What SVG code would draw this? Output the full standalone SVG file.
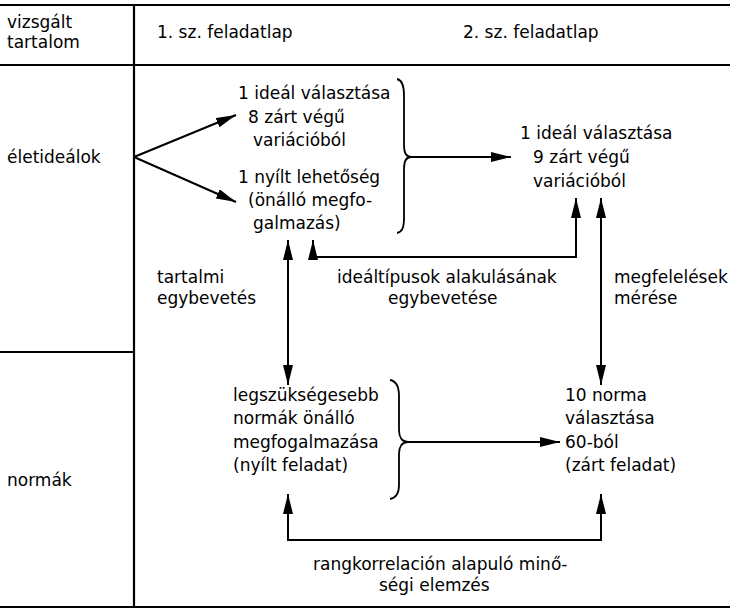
<svg xmlns="http://www.w3.org/2000/svg" width="730" height="610" viewBox="0 0 730 610">
<defs>
<marker id="ah" viewBox="0 0 20 10" refX="20" refY="5" markerWidth="20" markerHeight="10" markerUnits="userSpaceOnUse" orient="auto-start-reverse">
<path d="M0,0 L20,5 L0,10 z" fill="#000"/>
</marker>
<style>
text{font-family:"DejaVu Sans","Liberation Sans",sans-serif;font-size:17px;fill:#000}
.ln{stroke:#000;stroke-width:2.2;fill:none}
.c{stroke:#000;stroke-width:2;fill:none}
.br{stroke:#000;stroke-width:1.8;fill:none}
</style>
</defs>
<rect width="730" height="610" fill="#fff"/>
<g id="table">
<line class="ln" x1="0" y1="5" x2="730" y2="5"/>
<line class="ln" x1="0" y1="65" x2="730" y2="65"/>
<line class="ln" x1="134" y1="5" x2="134" y2="607"/>
<line class="ln" x1="0" y1="352" x2="134" y2="352"/>
<line class="ln" x1="0" y1="607" x2="730" y2="607"/>
</g>
<g id="header">
<text x="7" y="28">vizsgált</text>
<text x="7" y="48">tartalom</text>
<text x="157" y="38">1. sz. feladatlap</text>
<text x="463" y="38">2. sz. feladatlap</text>
</g>
<g id="row-labels">
<text x="7" y="163">életideálok</text>
<text x="7" y="486">normák</text>
</g>
<g id="n1">
<text x="238" y="99">1 ideál választása</text>
<text x="248" y="123">8 zárt végű</text>
<text x="253" y="146">variációból</text>
</g>
<g id="n2">
<text x="238" y="183">1 nyílt lehetőség</text>
<text x="248" y="206">(önálló megfo-</text>
<text x="253" y="229">galmazás)</text>
</g>
<g id="brace1">
<path class="br" d="M397,79 C402,80 404,85 404,95 L404,145 C404,152 406,157 411,157 C406,157 404,162 404,169 L404,218 C404,228 402,232 397,233"/>
</g>
<g id="n3">
<text x="520" y="139">1 ideál választása</text>
<text x="533" y="163">9 zárt végű</text>
<text x="533" y="187">variációból</text>
</g>
<g id="n4">
<text x="233" y="401">legszükségesebb</text>
<text x="233" y="424">normák önálló</text>
<text x="233" y="448">megfogalmazása</text>
<text x="233" y="471">(nyílt feladat)</text>
</g>
<g id="brace2">
<path class="br" d="M390,380 C396,381 399,386 399,396 L399,430 C399,437 402,442 408,442 C402,442 399,447 399,454 L399,485 C399,494 396,498 390,499"/>
</g>
<g id="n5">
<text x="565" y="401">10 norma</text>
<text x="565" y="424">választása</text>
<text x="565" y="448">60-ból</text>
<text x="565" y="471">(zárt feladat)</text>
</g>
<g id="labels">
<text x="157" y="283">tartalmi</text>
<text x="157" y="304">egybevetés</text>
<text x="337" y="283">ideáltípusok alakulásának</text>
<text x="388" y="304">egybevetése</text>
<text x="614" y="283">megfelelések</text>
<text x="614" y="304">mérése</text>
<text x="313" y="570">rangkorrelación alapuló minő-</text>
<text x="379" y="591">ségi elemzés</text>
</g>
<g id="connectors">
<line class="c" x1="134" y1="157" x2="236" y2="115" marker-end="url(#ah)"/>
<line class="c" x1="134" y1="157" x2="236" y2="202" marker-end="url(#ah)"/>
<line class="c" x1="411" y1="157" x2="511" y2="157" marker-end="url(#ah)"/>
<path class="c" d="M313,240 V257 H576 V198" marker-start="url(#ah)" marker-end="url(#ah)"/>
<line class="c" x1="288" y1="240" x2="288" y2="385" marker-start="url(#ah)" marker-end="url(#ah)"/>
<line class="c" x1="601" y1="198" x2="601" y2="385" marker-start="url(#ah)" marker-end="url(#ah)"/>
<line class="c" x1="408" y1="442" x2="560" y2="442" marker-end="url(#ah)"/>
<path class="c" d="M288,494 V540 H601 V494" marker-start="url(#ah)" marker-end="url(#ah)"/>
</g>
</svg>
